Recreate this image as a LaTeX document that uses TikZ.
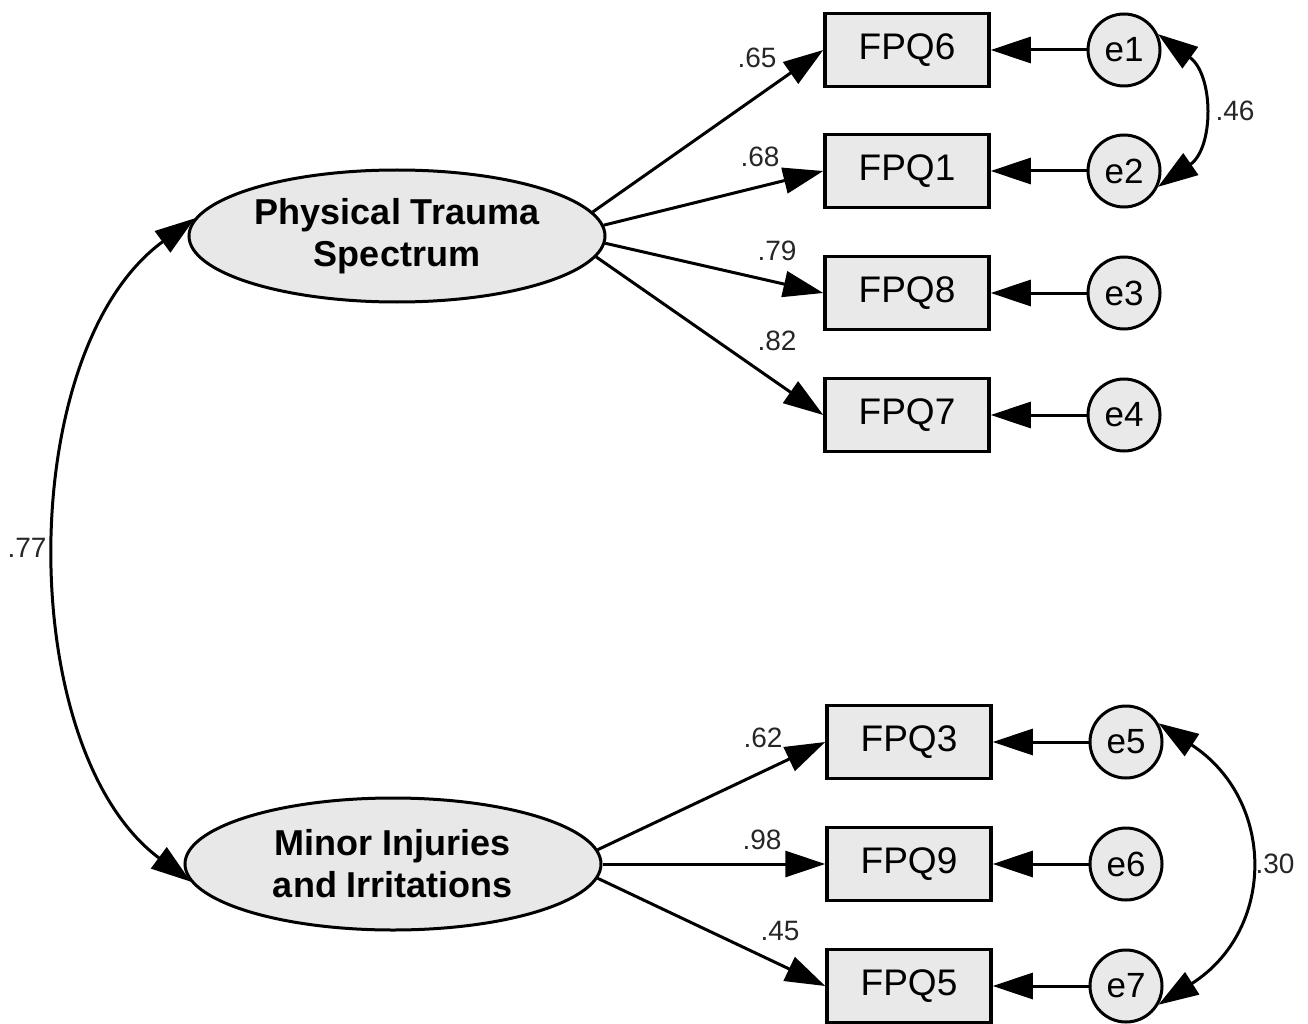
\documentclass[tikz,border=0pt]{standalone}
\usepackage{fontspec}
\setmainfont{Liberation Sans}
\usetikzlibrary{shapes.geometric,arrows.meta}
\begin{document}
\begin{tikzpicture}[x=1pt,y=-1pt,
  latent/.style={ellipse,draw,line width=3pt,fill=gray!18,minimum width=416pt,minimum height=132pt,inner sep=0pt,align=center,font=\fontsize{36}{42}\selectfont\bfseries},
  obs/.style={rectangle,draw,line width=3.5pt,fill=gray!17,minimum width=164pt,minimum height=73pt,inner sep=0pt,font=\fontsize{37}{40}\selectfont},
  err/.style={circle,draw,line width=3pt,fill=gray!17,minimum size=72pt,inner sep=0pt,font=\fontsize{35}{40}\selectfont},
  coef/.style={font=\fontsize{28}{30}\selectfont,text=black!85,inner sep=0pt},
  path/.style={line width=3pt,-{Triangle[length=40pt,width=26pt]}},
  cov/.style={line width=3pt,{Triangle[length=40pt,width=26pt]}-{Triangle[length=40pt,width=26pt]}}]
\useasboundingbox (0,0) rectangle (1308,1024);

\node[latent] (p1) at (397,236) {Physical Trauma\\Spectrum};
\node[latent] (p2) at (393,864) {Minor Injuries\\and Irritations};

\node[obs] (q6) at (907,50) {FPQ6};
\node[obs] (q1) at (907,171) {FPQ1};
\node[obs] (q8) at (907,293) {FPQ8};
\node[obs] (q7) at (907,415) {FPQ7};
\node[obs] (q3) at (909,742) {FPQ3};
\node[obs] (q9) at (909,864) {FPQ9};
\node[obs] (q5) at (909,986) {FPQ5};

\node[err] (e1) at (1124,50) {e1};
\node[err] (e2) at (1124,171) {e2};
\node[err] (e3) at (1124,293) {e3};
\node[err] (e4) at (1124,415) {e4};
\node[err] (e5) at (1126,742) {e5};
\node[err] (e6) at (1126,864) {e6};
\node[err] (e7) at (1126,986) {e7};

\draw[path] (p1.7.5) -- (q6.west);
\draw[path] (p1.3) -- (q1.west);
\draw[path] (p1.-2) -- (q8.west);
\draw[path] (p1.-6) -- (q7.west);
\draw[path] (p2.4.5) -- (q3.west);
\draw[path] (p2.0) -- (q9.west);
\draw[path] (p2.-4.5) -- (q5.west);

\foreach \e/\q in {e1/q6,e2/q1,e3/q8,e4/q7,e5/q3,e6/q9,e7/q5}
  \draw[path] (\e.west) -- (\q.east);

\draw[cov] (p1.175) .. controls (14,350) and (14,750) .. (p2.185);
\draw[cov] (e1.25) .. controls (1214,75) and (1214,148) .. (e2.-25);
\draw[cov] (e5.30) .. controls (1276,800) and (1276,930) .. (e7.-30);

\node[coef] (c65) at (757,58) {.65};
\node[coef] (c68) at (760,157) {.68};
\node[coef] (c79) at (777,251) {.79};
\node[coef] (c82) at (777,341) {.82};
\node[coef] (c62) at (763,738) {.62};
\node[coef] (c98) at (762,840) {.98};
\node[coef] (c45) at (780,931) {.45};
\node[coef] (c46) at (1235,111) {.46};
\node[coef] (c30) at (1275,864) {.30};
\node[coef] (c77) at (27,548) {.77};
\end{tikzpicture}
\end{document}
